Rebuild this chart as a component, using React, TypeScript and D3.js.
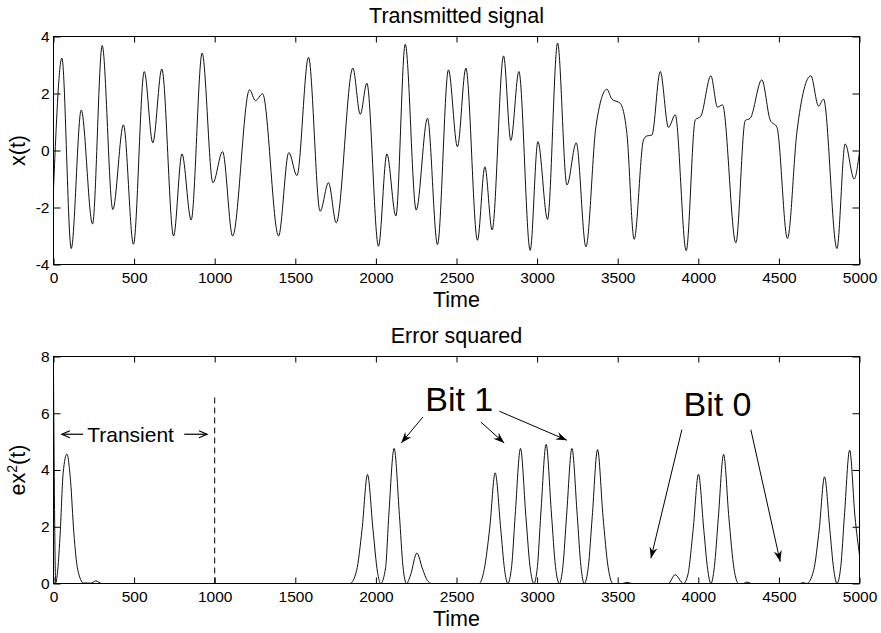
import React, { useRef, useEffect } from 'react';
import * as d3 from 'd3';

// transmitted signal (peaks, troughs and shoulders)
const sigTime = [
  0, 52, 110, 172, 242, 302, 368, 434, 496, 563, 616, 672, 745, 797, 854, 922,
  989, 1049, 1111, 1216, 1253, 1297, 1396, 1460, 1510, 1582, 1654, 1706, 1754,
  1857, 1903, 1944, 2016, 2068, 2124, 2182, 2250, 2320, 2382, 2450, 2506, 2558,
  2630, 2676, 2721, 2792, 2837, 2887, 2957, 3005, 3065, 3127, 3185, 3243, 3303,
  3365, 3433, 3464, 3515, 3557, 3602, 3660, 3681, 3712, 3764, 3815, 3857, 3925,
  3981, 4016, 4078, 4119, 4150, 4233, 4291, 4322, 4394, 4446, 4488, 4553, 4612,
  4698, 4746, 4777, 4860, 4911, 4967, 5000,
];
const sigValue = [
  -1.35, 3.24, -3.44, 1.42, -2.58, 3.68, -2.07, 0.9, -3.29, 2.77, 0.27, 2.86,
  -3.0, -0.12, -2.44, 3.42, -1.13, -0.04, -3.0, 2.13, 1.75, 1.99, -3.0, -0.07,
  -0.88, 3.27, -2.13, -1.13, -2.54, 2.89, 1.27, 2.36, -3.36, -0.12, -2.3, 3.73,
  -2.09, 1.13, -3.3, 2.83, 0.13, 2.89, -3.15, -0.57, -2.79, 3.32, 0.35, 2.77,
  -3.5, 0.31, -2.42, 3.77, -1.21, 0.27, -3.38, 0.84, 2.15, 1.8, 1.66, 0.6,
  -3.12, 0.37, 0.51, 0.54, 2.77, 0.81, 1.25, -3.52, 1.07, 1.21, 2.62, 1.52, 1.6,
  -3.24, 1.05, 1.13, 2.48, 1.07, 0.81, -3.09, 0.66, 2.62, 1.56, 1.8, -3.44, 0.23,
  -1.0, -0.04,
];

// error squared
const errTime = [
  0, 14, 24, 40, 60, 83, 106, 126, 150, 186, 230, 262, 300,
  1840, 1880, 1914, 1948, 1982, 2010, 2030,
  2060, 2080, 2113, 2146, 2168, 2190,
  2215, 2254, 2290, 2320, 2345,
  2640, 2672, 2706, 2740, 2774, 2798, 2818,
  2842, 2864, 2897, 2930, 2956, 2980,
  3002, 3023, 3056, 3089, 3114, 3138,
  3160, 3183, 3216, 3249, 3272, 3293,
  3318, 3342, 3375, 3409, 3440, 3470,
  3530, 3557, 3590, 3815, 3856, 3908,
  3935, 3968, 4001, 4034, 4058, 4078,
  4100, 4124, 4157, 4190, 4222, 4250,
  4280, 4301, 4330, 4630, 4649, 4672,
  4715, 4750, 4783, 4816, 4840, 4860,
  4884, 4906, 4939, 4972, 5000,
];
const errValue = [
  7.45, 0.02, 0.35, 1.6, 3.9, 4.56, 3.6, 1.8, 0.5, 0.02, 0.01, 0.09, 0,
  0, 0.45, 1.9, 3.84, 1.9, 0.4, 0,
  0.55, 2.4, 4.76, 2.4, 0.6, 0,
  0.3, 1.07, 0.5, 0.1, 0,
  0, 0.5, 1.95, 3.9, 1.95, 0.5, 0,
  0.6, 2.4, 4.76, 2.4, 0.6, 0,
  0.6, 2.45, 4.9, 2.45, 0.6, 0,
  0.6, 2.4, 4.76, 2.4, 0.6, 0,
  0.6, 2.35, 4.72, 2.35, 0.6, 0,
  0, 0.04, 0, 0, 0.31, 0,
  0.3, 1.9, 3.85, 1.9, 0.5, 0,
  0.6, 2.3, 4.55, 2.3, 0.5, 0,
  0, 0.05, 0, 0, 0.03, 0,
  0.45, 1.9, 3.76, 1.9, 0.5, 0,
  0.6, 2.35, 4.7, 2.35, 1.0,
];

const timeTicks = [0, 500, 1000, 1500, 2000, 2500, 3000, 3500, 4000, 4500, 5000];
const sigTicks = [-4, -2, 0, 2, 4];
const errTicks = [0, 2, 4, 6, 8];

// annotations, in data units of the lower panel
const transientY = 5.26;
const bit1Label = [2306, 6.08];
const bit1Arrows = [
  [2292, 5.87, 2157, 4.95],
  [2651, 5.69, 2796, 4.95],
  [2766, 6.07, 3185, 5.05],
];
const bit0Label = [3908, 5.89];
const bit0Arrows = [
  [3898, 5.42, 3706, 0.89],
  [4326, 5.42, 4508, 0.77],
];

const W = 881;
const H = 633;
const FONT = '"Liberation Sans", Arial, Helvetica, sans-serif';

export default function App() {
  const svgRef = useRef(null);

  useEffect(() => {
    const svg = d3.select(svgRef.current);
    svg.selectAll('*').remove();

    const x = d3.scaleLinear().domain([0, 5000]).range([53.5, 859.5]);
    const cx = (53.5 + 859.5) / 2;

    const defs = svg.append('defs');
    defs
      .append('marker')
      .attr('id', 'head')
      .attr('viewBox', '-12 -6 14 12')
      .attr('markerUnits', 'userSpaceOnUse')
      .attr('markerWidth', 14)
      .attr('markerHeight', 12)
      .attr('refX', 0)
      .attr('refY', 0)
      .attr('orient', 'auto')
      .append('path')
      .attr('d', 'M0,0 L-11,-4 L-7.5,0 L-11,4 Z')
      .attr('fill', '#000');
    defs
      .append('marker')
      .attr('id', 'vhead')
      .attr('viewBox', '-10 -6 12 12')
      .attr('markerUnits', 'userSpaceOnUse')
      .attr('markerWidth', 12)
      .attr('markerHeight', 12)
      .attr('refX', 0)
      .attr('refY', 0)
      .attr('orient', 'auto')
      .append('path')
      .attr('d', 'M-8,-3.5 L0,0 L-8,3.5')
      .attr('fill', 'none')
      .attr('stroke', '#000')
      .attr('stroke-width', 1.2);

    // one axes box with MATLAB-like inward ticks on all four sides
    const panel = (top, bottom, domain, ticks, times, values, title, id) => {
      const y = d3.scaleLinear().domain(domain).range([bottom, top]);
      const g = svg.append('g');

      defs
        .append('clipPath')
        .attr('id', id)
        .append('rect')
        .attr('x', 53.5)
        .attr('y', top)
        .attr('width', 806)
        .attr('height', bottom - top);

      const line = d3
        .line()
        .x((d, i) => x(times[i]))
        .y((d) => y(d))
        .curve(d3.curveMonotoneX);

      g.append('path')
        .attr('d', line(values))
        .attr('fill', 'none')
        .attr('stroke', '#111')
        .attr('stroke-width', 1)
        .attr('clip-path', `url(#${id})`);

      const xb = g
        .append('g')
        .attr('transform', `translate(0,${bottom})`)
        .call(
          d3.axisBottom(x).tickValues(timeTicks).tickSize(-6).tickPadding(7.5).tickFormat((d) => String(d))
        );
      const xt = g
        .append('g')
        .attr('transform', `translate(0,${top})`)
        .call(d3.axisTop(x).tickValues(timeTicks).tickSize(-6).tickFormat(() => ''));
      const yl = g
        .append('g')
        .attr('transform', `translate(53.5,0)`)
        .call(d3.axisLeft(y).tickValues(ticks).tickSize(-7).tickPadding(4).tickFormat((d) => String(d)));
      const yr = g
        .append('g')
        .attr('transform', `translate(859.5,0)`)
        .call(d3.axisRight(y).tickValues(ticks).tickSize(-7).tickFormat(() => ''));

      [xb, xt, yl, yr].forEach((a) => {
        a.select('.domain').remove();
        a.attr('font-size', 15.5).attr('font-family', FONT);
        a.selectAll('line').attr('stroke', '#000');
      });

      g.append('rect')
        .attr('x', 53.5)
        .attr('y', top)
        .attr('width', 806)
        .attr('height', bottom - top)
        .attr('fill', 'none')
        .attr('stroke', '#000')
        .attr('stroke-width', 1);

      g.append('text')
        .attr('x', cx)
        .attr('y', top - 14)
        .attr('text-anchor', 'middle')
        .attr('font-size', 21.5)
        .attr('font-family', FONT)
        .text(title);

      g.append('text')
        .attr('x', cx)
        .attr('y', bottom + 42)
        .attr('text-anchor', 'middle')
        .attr('font-size', 21.5)
        .attr('font-family', FONT)
        .text('Time');

      return { y, g };
    };

    const p1 = panel(36.5, 264.5, [-4, 4], sigTicks, sigTime, sigValue, 'Transmitted signal', 'clipTop');
    p1.g
      .append('text')
      .attr('transform', `translate(25,${(36.5 + 264.5) / 2}) rotate(-90)`)
      .attr('text-anchor', 'middle')
      .attr('font-size', 21.5)
      .attr('font-family', FONT)
      .text('x(t)');

    const p2 = panel(356.5, 583.5, [0, 8], errTicks, errTime, errValue, 'Error squared', 'clipBottom');
    const y2 = p2.y;
    const lab = p2.g
      .append('text')
      .attr('transform', `translate(25,${(356.5 + 583.5) / 2}) rotate(-90)`)
      .attr('text-anchor', 'middle')
      .attr('font-size', 21.5)
      .attr('font-family', FONT);
    lab.append('tspan').text('ex');
    lab.append('tspan').attr('dy', -8).attr('font-size', 14).text('2');
    lab.append('tspan').attr('dy', 8).text('(t)');

    // transient marker
    const ann = svg.append('g');
    ann
      .append('line')
      .attr('x1', x(1000))
      .attr('x2', x(1000))
      .attr('y1', y2(0))
      .attr('y2', y2(6.63))
      .attr('stroke', '#000')
      .attr('stroke-width', 1)
      .attr('stroke-dasharray', '6,4');
    ann
      .append('line')
      .attr('x1', x(184))
      .attr('x2', x(52))
      .attr('y1', y2(transientY))
      .attr('y2', y2(transientY))
      .attr('stroke', '#000')
      .attr('stroke-width', 1.2)
      .attr('marker-end', 'url(#vhead)');
    ann
      .append('line')
      .attr('x1', x(811))
      .attr('x2', x(952))
      .attr('y1', y2(transientY))
      .attr('y2', y2(transientY))
      .attr('stroke', '#000')
      .attr('stroke-width', 1.2)
      .attr('marker-end', 'url(#vhead)');
    ann
      .append('text')
      .attr('x', x(209))
      .attr('y', y2(transientY) + 7.5)
      .attr('font-size', 21)
      .attr('font-family', FONT)
      .text('Transient');

    // bit labels with arrows
    ann
      .append('text')
      .attr('x', x(bit1Label[0]))
      .attr('y', y2(bit1Label[1]))
      .attr('font-size', 34)
      .attr('font-family', FONT)
      .text('Bit 1');
    ann
      .append('text')
      .attr('x', x(bit0Label[0]))
      .attr('y', y2(bit0Label[1]))
      .attr('font-size', 34)
      .attr('font-family', FONT)
      .text('Bit 0');

    ann
      .selectAll('.arrow')
      .data([...bit1Arrows, ...bit0Arrows])
      .join('line')
      .attr('class', 'arrow')
      .attr('x1', (d) => x(d[0]))
      .attr('y1', (d) => y2(d[1]))
      .attr('x2', (d) => x(d[2]))
      .attr('y2', (d) => y2(d[3]))
      .attr('stroke', '#000')
      .attr('stroke-width', 1)
      .attr('marker-end', 'url(#head)');
  }, []);

  return (
    <svg
      ref={svgRef}
      width={W}
      height={H}
      style={{ position: 'absolute', left: 0, top: 0, background: '#fff' }}
    ></svg>
  );
}
